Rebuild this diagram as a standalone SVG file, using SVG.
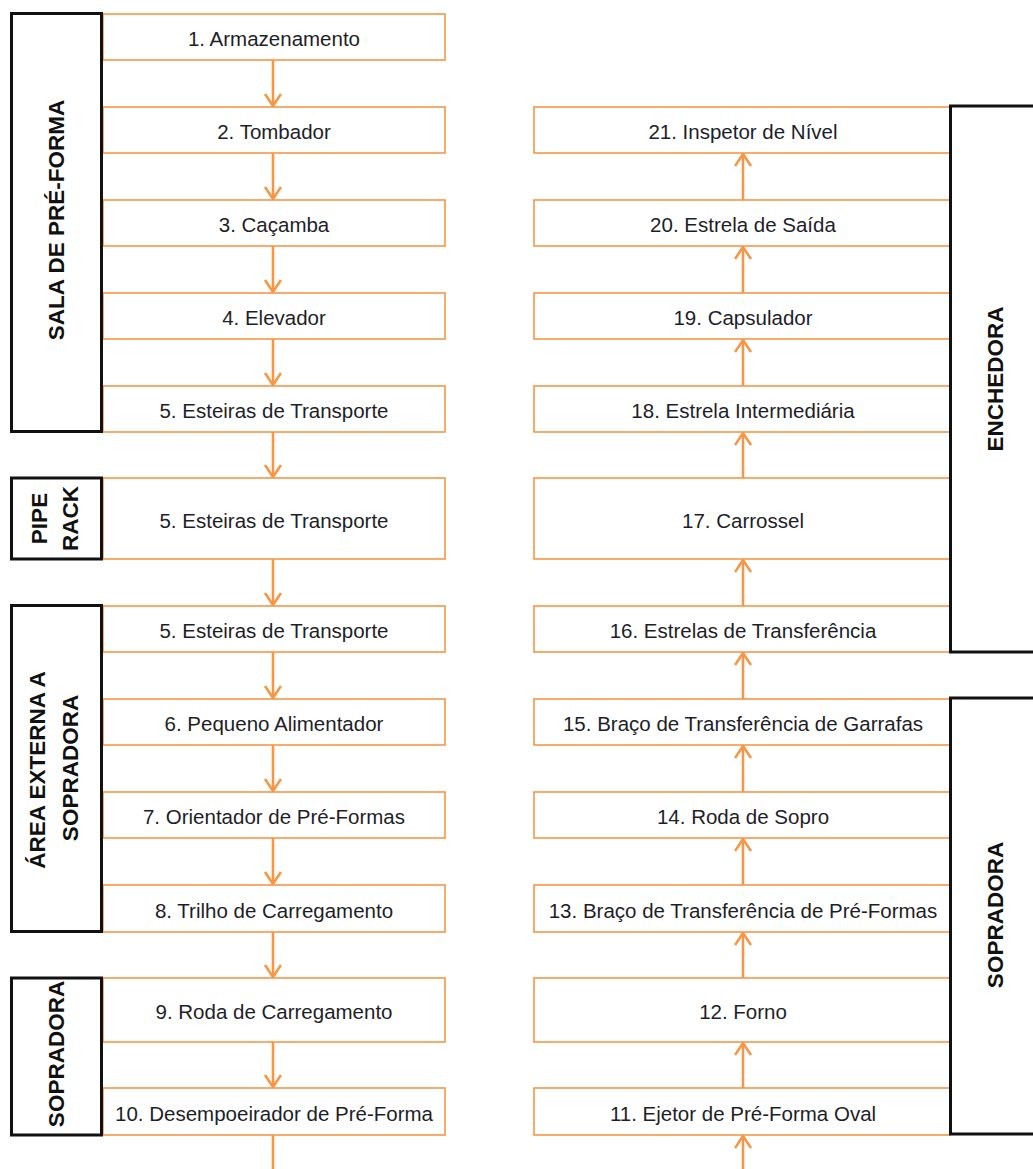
<svg xmlns="http://www.w3.org/2000/svg" width="1033" height="1169" viewBox="0 0 1033 1169">
<style>
.box{fill:#fff;stroke:#F79646;stroke-width:1.6}
.lbl{fill:#fff;stroke:#111;stroke-width:3}
.t{font-family:"Liberation Sans",Arial,sans-serif;font-size:20.5px;fill:#1e1e28;text-anchor:middle}
.b{font-family:"Liberation Sans",Arial,sans-serif;font-size:22.5px;font-weight:bold;fill:#111;text-anchor:middle}
.c{stroke:#F79646;stroke-width:2.6;fill:none}
</style>
<defs>
<marker id="ah" markerUnits="userSpaceOnUse" markerWidth="16" markerHeight="20" viewBox="0 0 16 20" refX="13" refY="9" orient="auto">
<path d="M1,1 L13,9 L1,17" fill="none" stroke="#F79646" stroke-width="2.6"/>
</marker>
</defs>
<rect width="1033" height="1169" fill="#fff"/>

<g id="connectors">
<line class="c" x1="273" y1="60" x2="273" y2="106" marker-end="url(#ah)"/>
<line class="c" x1="273" y1="153" x2="273" y2="199" marker-end="url(#ah)"/>
<line class="c" x1="273" y1="246" x2="273" y2="292" marker-end="url(#ah)"/>
<line class="c" x1="273" y1="339" x2="273" y2="385" marker-end="url(#ah)"/>
<line class="c" x1="273" y1="432" x2="273" y2="477" marker-end="url(#ah)"/>
<line class="c" x1="273" y1="559" x2="273" y2="605" marker-end="url(#ah)"/>
<line class="c" x1="273" y1="652" x2="273" y2="698" marker-end="url(#ah)"/>
<line class="c" x1="273" y1="745" x2="273" y2="791" marker-end="url(#ah)"/>
<line class="c" x1="273" y1="838" x2="273" y2="884" marker-end="url(#ah)"/>
<line class="c" x1="273" y1="932" x2="273" y2="977" marker-end="url(#ah)"/>
<line class="c" x1="273" y1="1042" x2="273" y2="1087" marker-end="url(#ah)"/>
<line class="c" x1="273" y1="1135" x2="273" y2="1169"/>
<line class="c" x1="743" y1="1169" x2="743" y2="1136" marker-end="url(#ah)"/>
<line class="c" x1="743" y1="1088" x2="743" y2="1043" marker-end="url(#ah)"/>
<line class="c" x1="743" y1="978" x2="743" y2="933" marker-end="url(#ah)"/>
<line class="c" x1="743" y1="885" x2="743" y2="839" marker-end="url(#ah)"/>
<line class="c" x1="743" y1="792" x2="743" y2="746" marker-end="url(#ah)"/>
<line class="c" x1="743" y1="699" x2="743" y2="653" marker-end="url(#ah)"/>
<line class="c" x1="743" y1="606" x2="743" y2="560" marker-end="url(#ah)"/>
<line class="c" x1="743" y1="478" x2="743" y2="433" marker-end="url(#ah)"/>
<line class="c" x1="743" y1="386" x2="743" y2="340" marker-end="url(#ah)"/>
<line class="c" x1="743" y1="293" x2="743" y2="247" marker-end="url(#ah)"/>
<line class="c" x1="743" y1="200" x2="743" y2="154" marker-end="url(#ah)"/>
</g>

<g id="n1"><rect class="box" x="103" y="14" width="342" height="46"/><text class="t" x="274" y="45.5">1. Armazenamento</text></g>
<g id="n2"><rect class="box" x="103" y="107" width="342" height="46"/><text class="t" x="274" y="138.5">2. Tombador</text></g>
<g id="n3"><rect class="box" x="103" y="200" width="342" height="46"/><text class="t" x="274" y="231.5">3. Caçamba</text></g>
<g id="n4"><rect class="box" x="103" y="293" width="342" height="46"/><text class="t" x="274" y="324.5">4. Elevador</text></g>
<g id="n5a"><rect class="box" x="103" y="386" width="342" height="46"/><text class="t" x="274" y="417.5">5. Esteiras de Transporte</text></g>
<g id="n5b"><rect class="box" x="103" y="478" width="342" height="81"/><text class="t" x="274" y="527.5">5. Esteiras de Transporte</text></g>
<g id="n5c"><rect class="box" x="103" y="606" width="342" height="46"/><text class="t" x="274" y="637.5">5. Esteiras de Transporte</text></g>
<g id="n6"><rect class="box" x="103" y="699" width="342" height="46"/><text class="t" x="274" y="730.5">6. Pequeno Alimentador</text></g>
<g id="n7"><rect class="box" x="103" y="792" width="342" height="46"/><text class="t" x="274" y="823.5">7. Orientador de Pré-Formas</text></g>
<g id="n8"><rect class="box" x="103" y="885" width="342" height="47"/><text class="t" x="274" y="917.5">8. Trilho de Carregamento</text></g>
<g id="n9"><rect class="box" x="103" y="978" width="342" height="64"/><text class="t" x="274" y="1018.5">9. Roda de Carregamento</text></g>
<g id="n10"><rect class="box" x="103" y="1088" width="342" height="47"/><text class="t" x="274" y="1120.5">10. Desempoeirador de Pré-Forma</text></g>

<g id="n21"><rect class="box" x="534" y="107" width="416" height="46"/><text class="t" x="743" y="138.5">21. Inspetor de Nível</text></g>
<g id="n20"><rect class="box" x="534" y="200" width="416" height="46"/><text class="t" x="743" y="231.5">20. Estrela de Saída</text></g>
<g id="n19"><rect class="box" x="534" y="293" width="416" height="46"/><text class="t" x="743" y="324.5">19. Capsulador</text></g>
<g id="n18"><rect class="box" x="534" y="386" width="416" height="46"/><text class="t" x="743" y="417.5">18. Estrela Intermediária</text></g>
<g id="n17"><rect class="box" x="534" y="478" width="416" height="81"/><text class="t" x="743" y="527.5">17. Carrossel</text></g>
<g id="n16"><rect class="box" x="534" y="606" width="416" height="46"/><text class="t" x="743" y="637.5">16. Estrelas de Transferência</text></g>
<g id="n15"><rect class="box" x="534" y="699" width="416" height="46"/><text class="t" x="743" y="730.5">15. Braço de Transferência de Garrafas</text></g>
<g id="n14"><rect class="box" x="534" y="792" width="416" height="46"/><text class="t" x="743" y="823.5">14. Roda de Sopro</text></g>
<g id="n13"><rect class="box" x="534" y="885" width="416" height="47"/><text class="t" x="743" y="917.5">13. Braço de Transferência de Pré-Formas</text></g>
<g id="n12"><rect class="box" x="534" y="978" width="416" height="64"/><text class="t" x="743" y="1018.5">12. Forno</text></g>
<g id="n11"><rect class="box" x="534" y="1088" width="416" height="47"/><text class="t" x="743" y="1120.5">11. Ejetor de Pré-Forma Oval</text></g>

<g id="sala"><rect class="lbl" x="11.5" y="13.5" width="90" height="418"/><text class="b" transform="translate(64,220) rotate(-90)">SALA DE PRÉ-FORMA</text></g>
<g id="pipe"><rect class="lbl" x="11.5" y="478" width="90" height="81"/><text class="b" transform="translate(47,518.5) rotate(-90)">PIPE</text><text class="b" transform="translate(78,518.5) rotate(-90)">RACK</text></g>
<g id="area"><rect class="lbl" x="11.5" y="605.5" width="90" height="326"/><text class="b" transform="translate(45,770) rotate(-90)">ÁREA EXTERNA A</text><text class="b" transform="translate(78,768) rotate(-90)">SOPRADORA</text></g>
<g id="soprL"><rect class="lbl" x="11.5" y="978" width="90" height="157"/><text class="b" transform="translate(64,1054) rotate(-90)">SOPRADORA</text></g>
<g id="ench"><rect class="lbl" x="950.5" y="106" width="90" height="546"/><text class="b" transform="translate(1003,379) rotate(-90)">ENCHEDORA</text></g>
<g id="soprR"><rect class="lbl" x="950.5" y="698" width="90" height="436"/><text class="b" transform="translate(1003,915) rotate(-90)">SOPRADORA</text></g>
</svg>
